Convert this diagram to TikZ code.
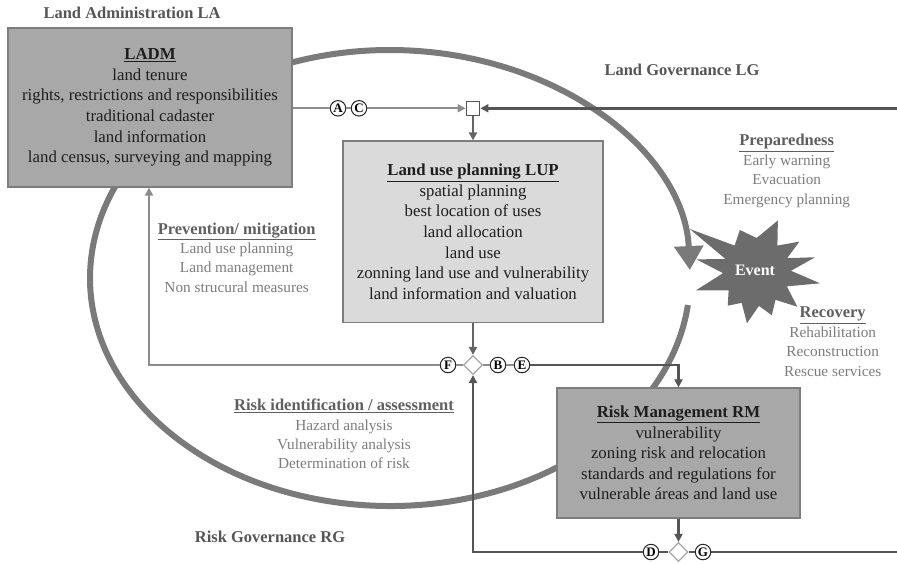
\documentclass[tikz,border=0pt]{standalone}
\usepackage{fontspec}
\setmainfont{Liberation Serif}
\newfontfamily\lserif{Liberation Serif}
\usetikzlibrary{arrows.meta,shapes.geometric}

\definecolor{ringgray}{RGB}{122,122,122}
\definecolor{boxdarkfill}{RGB}{168,168,168}
\definecolor{boxlightfill}{RGB}{218,218,218}
\definecolor{boxedge}{RGB}{125,125,125}
\definecolor{boxtext}{RGB}{30,30,30}
\definecolor{phasetitle}{RGB}{95,95,95}
\definecolor{phaseitem}{RGB}{125,125,125}
\definecolor{headgray}{RGB}{85,85,85}
\definecolor{thinline}{RGB}{140,140,140}
\definecolor{midline}{RGB}{100,100,100}
\definecolor{thickline}{RGB}{85,85,85}
\definecolor{eventgray}{RGB}{108,108,108}

\begin{document}
\begin{tikzpicture}[x=1pt,y=-1pt,
  every node/.style={font=\lserif},
  boxdark/.style={draw=boxedge, line width=1.2pt, fill=boxdarkfill, inner sep=0pt,
    align=center, text=boxtext, font=\lserif\fontsize{16.8}{20.6}\selectfont},
  boxlight/.style={boxdark, fill=boxlightfill},
  phase/.style={align=center, text=phaseitem, inner sep=0pt,
    font=\lserif\fontsize{15.3}{19.4}\selectfont},
  heading/.style={text=headgray, inner sep=0pt, font=\lserif\fontsize{16.5}{20}\selectfont\bfseries},
  tag/.style={circle, draw=black!85, line width=1pt, fill=white, inner sep=0pt,
    minimum size=15.5pt, font=\lserif\fontsize{13}{14}\selectfont\bfseries},
  junction/.style={diamond, draw=black!35, line width=1.2pt, fill=white, inner sep=0pt,
    minimum width=19pt, minimum height=19pt},
  thinln/.style={draw=thinline, line width=1.8pt},
  midln/.style={draw=midline, line width=2pt},
  thickln/.style={draw=thickline, line width=2.6pt},
  arr/.style={-{Triangle[width=8pt,length=8pt]}},
]
\useasboundingbox (0,0) rectangle (897,563);

% governance cycle
\draw[ringgray, line width=6pt, -{Triangle[width=28pt,length=24pt]}]
  (687.9,305) arc[start angle=6.8, end angle=358, x radius=300, y radius=228];

% event burst
\fill[eventgray, shift={(756,272)}]
  (10:65) -- (25:34) -- (40:54) -- (55:34) -- (70:46) -- (85:34) -- (100:52)
  -- (115:34) -- (130:44) -- (146:33) -- (163:63) -- (178:33) -- (192:61)
  -- (203:33) -- (213:79) -- (231:34) -- (249:45) -- (271:34) -- (293:56)
  -- (309:34) -- (325:53) -- (336:34) -- (346:61) -- (358:35) -- cycle;
\node[text=white, font=\lserif\fontsize{16}{18}\selectfont\bfseries] (ev) at (755,270) {Event};

% headings
\node[heading] (la) at (132,13) {Land Administration LA};
\node[heading] (lg) at (682,70) {Land Governance LG};
\node[heading] (rg) at (270,537) {Risk Governance RG};

% main boxes
\node[boxdark, minimum width=284pt, minimum height=159pt] (ladm) at (150,107.5)
  {\textbf{\underline{LADM}}\\land tenure\\rights, restrictions and responsibilities\\
   traditional cadaster\\land information\\land census, surveying and mapping};
\node[boxlight, minimum width=260pt, minimum height=181.5pt] (lup) at (473,231.7)
  {\textbf{\underline{Land use planning LUP}}\\spatial planning\\best location of uses\\
   land allocation\\land use\\zonning land use and vulnerability\\land information and valuation};
\node[boxdark, minimum width=243pt, minimum height=130pt] (rm) at (678.5,453)
  {\textbf{\underline{Risk Management RM}}\\vulnerability\\zoning risk and relocation\\
   standards and regulations for\\vulnerable áreas and land use};

% phase notes
\node[phase] (prep) at (786.7,171)
  {{\fontsize{16.5}{19.4}\selectfont\bfseries\color{phasetitle}\underline{Preparedness}}\\
   Early warning\\Evacuation\\Emergency planning};
\node[phase] (reco) at (832.7,341.7)
  {{\fontsize{16.5}{19.4}\selectfont\bfseries\color{phasetitle}\underline{Recovery}}\\
   Rehabilitation\\Reconstruction\\Rescue services};
\node[phase] (prev) at (236.7,257.5)
  {{\fontsize{16.5}{19.4}\selectfont\bfseries\color{phasetitle}\underline{Prevention/ mitigation}}\\
   Land use planning\\Land management\\Non strucural measures};
\node[phase] (risk) at (344,434)
  {{\fontsize{16.5}{19.4}\selectfont\bfseries\color{phasetitle}\underline{Risk identification / assessment}}\\
   Hazard analysis\\Vulnerability analysis\\Determination of risk};

% junctions
\node[draw=thickline, line width=1.2pt, fill=white, minimum size=13.6pt, inner sep=0pt] (sq) at (473,108.3) {};
\node[junction] (d1) at (473,365) {};
\node[junction] (d2) at (678.5,552) {};

% tags
\node[tag] (A) at (338,108.3) {A};
\node[tag] (C) at (359,108.3) {C};
\node[tag] (F) at (448,365) {F};
\node[tag] (B) at (498,365) {B};
\node[tag] (E) at (522,365) {E};
\node[tag] (D) at (651,552) {D};
\node[tag] (G) at (703,552) {G};

% free ends
\coordinate (topR) at (897,108.3);
\coordinate (botR) at (897,552);
\coordinate (botL) at (473,552);
\coordinate (midL) at (149,365);

% connectors
\draw[thinln] (ladm.east |- A) -- (A);
\draw[thinln] (A) -- (C);
\draw[thinln, arr] (C) -- (sq);
\draw[thickln, arr] (topR) -- (sq);
\draw[midln, arr] (sq) -- (lup.north);
\draw[midln, arr] (lup.south) -- (d1.north);
\draw[thinln] (d1) -- (F);
\draw[thinln, arr] (F) -- (midL) -- (midL |- ladm.south);
\draw[thinln] (d1) -- (B);
\draw[thinln] (B) -- (E);
\draw[thickln, arr] (E) -| (rm.north);
\draw[thickln, arr] (rm.south) -- (d2.north);
\draw[thickln] (botR) -- (G);
\draw[thickln] (G) -- (d2);
\draw[thickln] (d2) -- (D);
\draw[thickln, arr] (D) -- (botL) -- (d1.south);
\end{tikzpicture}
\end{document}
